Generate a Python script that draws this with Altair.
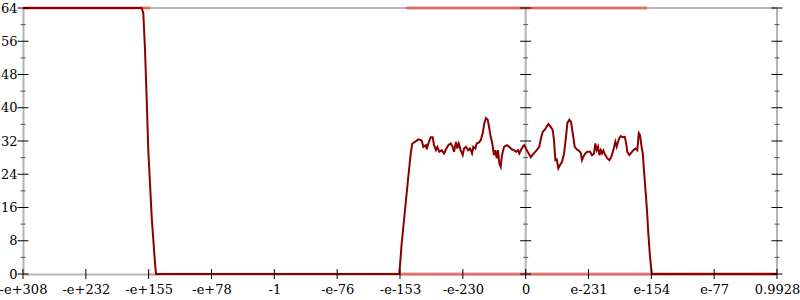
import altair as alt
import pandas as pd

# ---- data -------------------------------------------------------------
x_labels = ['-e+308', '-e+232', '-e+155', '-e+78', '-1', '-e-76', '-e-153',
            '-e-230', '0', 'e-231', 'e-154', 'e-77', '0.9928']
y_major = [0, 8, 16, 24, 32, 40, 48, 56, 64]
y_minor = [4, 12, 20, 28, 36, 44, 52, 60]

line_x = [0.0, 1.889, 1.915, 1.942, 1.969, 1.994, 2.021, 2.048, 2.074, 2.101, 2.117,
          5.989, 6.027, 6.080, 6.132, 6.171, 6.196, 6.239, 6.292, 6.346, 6.371,
          6.414, 6.425, 6.451, 6.489, 6.521, 6.541, 6.573, 6.594, 6.626, 6.664,
          6.701, 6.732, 6.769, 6.807, 6.839, 6.860, 6.892, 6.912, 6.935, 6.966,
          6.998, 7.019, 7.051, 7.083, 7.114, 7.146, 7.167, 7.199, 7.221, 7.253,
          7.285, 7.317, 7.342, 7.369, 7.396, 7.417, 7.444, 7.469, 7.496, 7.517,
          7.539, 7.560, 7.581, 7.603, 7.624, 7.656, 7.699, 7.740, 7.778, 7.815,
          7.847, 7.878, 7.899, 7.931, 7.963, 7.979, 8.017, 8.081, 8.122, 8.176,
          8.217, 8.240, 8.272, 8.308, 8.361, 8.399, 8.431, 8.451, 8.472, 8.494,
          8.520, 8.547, 8.579, 8.611, 8.642, 8.663, 8.695, 8.722, 8.749, 8.781,
          8.813, 8.844, 8.876, 8.897, 8.918, 8.950, 8.981, 9.024, 9.056, 9.088,
          9.109, 9.131, 9.152, 9.173, 9.195, 9.215, 9.236, 9.268, 9.300, 9.332,
          9.363, 9.395, 9.427, 9.449, 9.481, 9.513, 9.545, 9.577, 9.597, 9.618,
          9.650, 9.682, 9.714, 9.745, 9.777, 9.800, 9.820, 9.841, 9.863, 9.895,
          9.927, 9.952, 9.979, 10.006, 10.022, 12.0]
line_y = [64, 64, 62.7, 53.9, 41.9, 29.8, 21.8, 13.8, 8.2, 2.6, 0,
          0, 7.4, 15.4, 23.4, 29.0, 31.4, 31.8, 32.4, 32.1, 30.6,
          31.0, 30.0, 31.4, 32.9, 32.9, 31.0, 29.8, 30.6, 29.4, 29.8,
          29.0, 30.0, 31.0, 31.4, 30.6, 29.4, 31.8, 30.2, 31.4, 29.8,
          28.6, 30.2, 30.6, 29.8, 30.2, 29.0, 30.6, 30.2, 31.4, 31.6,
          32.2, 33.9, 36.3, 37.5, 37.1, 35.4, 33.0, 31.4, 28.6, 29.8,
          27.8, 29.8, 26.6, 25.8, 28.6, 30.6, 31.0, 30.6, 30.0, 29.8,
          29.4, 29.8, 29.0, 30.0, 30.8, 31.0, 29.8, 28.1, 28.9, 29.8,
          30.6, 32.4, 34.2, 34.8, 36.1, 35.4, 34.6, 32.2, 27.4, 27.6,
          25.4, 26.2, 27.0, 29.0, 33.0, 36.3, 37.1, 36.6, 33.9, 30.6,
          30.0, 29.7, 29.2, 27.4, 28.2, 29.0, 29.4, 29.4, 28.6, 29.0,
          31.4, 29.8, 30.6, 28.6, 29.8, 29.0, 29.7, 28.6, 27.8, 27.4,
          28.2, 29.8, 31.8, 30.6, 32.4, 33.2, 32.9, 33.0, 31.6, 29.4,
          28.6, 29.2, 29.8, 30.2, 29.8, 33.9, 33.4, 31.0, 29.0, 22.6,
          16.2, 9.8, 4.2, 0.2, 0, 0]

# regions where the individual samples (0 or 64) pile up
dense_start = [0.0, 6.1, 6.0]
dense_end = [2.02, 9.93, 12.0]
dense_value = [64, 64, 0]
faint_start = [2.0]
faint_end = [6.0]
faint_value = [0]

# ---- tables -----------------------------------------------------------
line_df = pd.DataFrame({'x': line_x, 'y': line_y})
dense_df = pd.DataFrame({'x': dense_start, 'x2': dense_end, 'y': dense_value})
faint_df = pd.DataFrame({'x': faint_start, 'x2': faint_end, 'y': faint_value})

axis_x_pos = [0, 8, 12]
major_df = pd.DataFrame([{'x': a, 'y': v} for a in axis_x_pos for v in y_major])
minor_df = pd.DataFrame([{'x': a, 'y': v} for a in axis_x_pos for v in y_minor])
xtick_df = pd.DataFrame({'x': list(range(len(x_labels))), 'y': [0] * len(x_labels)})
frame_v = pd.DataFrame({'x': [8, 12], 'y': [0, 0], 'y2': [64, 64]})
frame_h = pd.DataFrame({'x': [0], 'x2': [12], 'y': [64]})

FONT = 'DejaVu Serif'
label_arr = '[' + ','.join("'%s'" % s for s in x_labels) + ']'

xs = alt.Scale(domain=[0, 12], nice=False, zero=False)
ys = alt.Scale(domain=[0, 64], nice=False, zero=False)

x_axis = alt.Axis(values=list(range(len(x_labels))), labelExpr=label_arr + '[datum.value]',
                  ticks=False, grid=False, domainColor='#b4b4b4', domainWidth=2,
                  labelFont=FONT, labelFontSize=13, labelColor='black',
                  labelPadding=9, labelFlush=False, labelOverlap=False, title=None)
y_axis = alt.Axis(values=y_major, ticks=False, grid=False, domainColor='#b4b4b4',
                  domainWidth=2, labelFont=FONT, labelFontSize=13, labelColor='black',
                  labelPadding=6, labelFlush=False, labelOverlap=False, title=None)

X = alt.X('x:Q', scale=xs, axis=x_axis)
Y = alt.Y('y:Q', scale=ys, axis=y_axis)

frame_lines_v = alt.Chart(frame_v).mark_rule(color='#b4b4b4', strokeWidth=2).encode(
    x=X, y=Y, y2='y2')
frame_lines_h = alt.Chart(frame_h).mark_rule(color='#b4b4b4', strokeWidth=2).encode(
    x=X, x2='x2', y=Y)

dense = alt.Chart(dense_df).mark_rule(color='#ff2020', strokeWidth=3, opacity=0.5).encode(
    x=X, x2='x2', y=Y)
faint = alt.Chart(faint_df).mark_rule(color='#ff3030', strokeWidth=3, opacity=0.15).encode(
    x=X, x2='x2', y=Y)

line = alt.Chart(line_df).mark_line(color='#8b0000', strokeWidth=2).encode(x=X, y=Y)

major = alt.Chart(major_df).mark_tick(orient='horizontal', size=11, thickness=1,
                                      color='black', opacity=1).encode(x=X, y=Y)
minor = alt.Chart(minor_df).mark_tick(orient='horizontal', size=5, thickness=1,
                                      color='#555555', opacity=1).encode(x=X, y=Y)
xticks = alt.Chart(xtick_df).mark_tick(orient='vertical', size=10, thickness=1,
                                       color='black', opacity=1).encode(x=X, y=Y)

chart = alt.layer(frame_lines_v, frame_lines_h, faint, dense, line, major, minor, xticks).properties(
    width=754, height=266,
    padding={'left': 23, 'top': 8, 'right': 23, 'bottom': 26},
    autosize=alt.AutoSizeParams(type='none'),
    background='white'
).configure_view(stroke=None).configure_axis(labelOverlap=False)

chart.save('out.html', embed_options={'renderer': 'svg', 'actions': False})
